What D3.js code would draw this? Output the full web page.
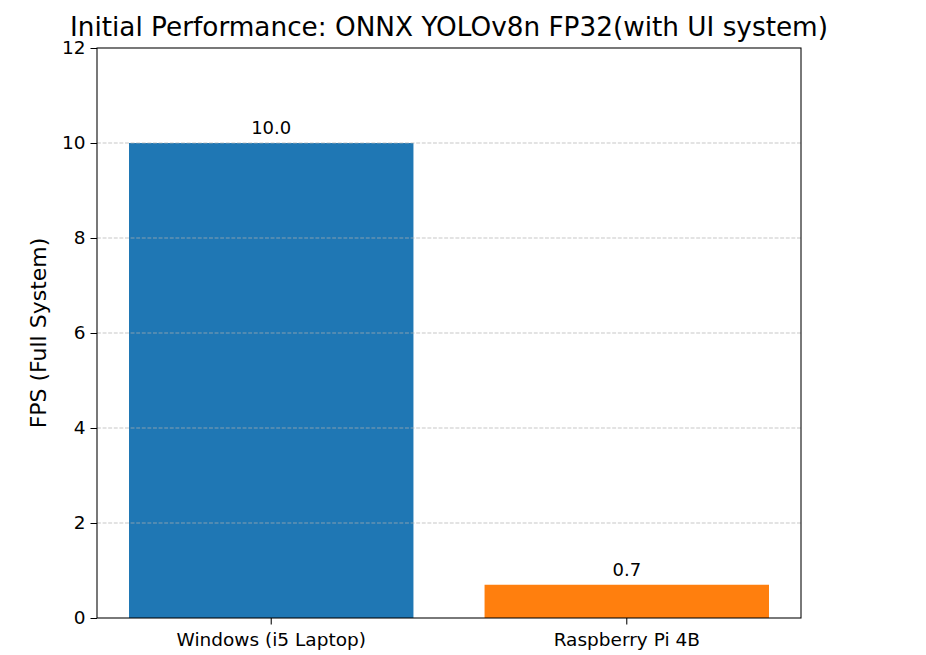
<!DOCTYPE html>
<html>
<head>
<meta charset="utf-8">
<script src="https://cdn.jsdelivr.net/npm/d3@7"></script>
<style>
html,body{margin:0;padding:0;background:#fff;}
svg{display:block;font-family:"DejaVu Sans",sans-serif;}
</style>
</head>
<body>
<svg id="chart" width="926" height="655"></svg>
<script>
const categories = ["Windows (i5 Laptop)", "Raspberry Pi 4B"];
const fpsValues = [10.0, 0.7];
const valueLabels = ["10.0", "0.7"];
const barColors = ["#1f77b4", "#ff7f0e"];
const yTicks = [0, 2, 4, 6, 8, 10, 12];
const titleText = "Initial Performance: ONNX YOLOv8n FP32(with UI system)";
const yLabelText = "FPS (Full System)";

const svg = d3.select("#chart");
const m = {left: 97, right: 801, top: 48, bottom: 618};

const x = d3.scaleBand().domain(categories).range([m.left, m.right])
  .paddingInner(0.2).paddingOuter(0.09);
const y = d3.scaleLinear().domain([0, 12]).range([m.bottom, m.top]);

// bars
svg.append("g").selectAll("rect").data(categories).join("rect")
  .attr("x", d => x(d))
  .attr("y", (d, i) => y(fpsValues[i]))
  .attr("width", x.bandwidth())
  .attr("height", (d, i) => y(0) - y(fpsValues[i]))
  .attr("fill", (d, i) => barColors[i]);

// grid (above bars)
svg.append("g").selectAll("line").data(yTicks.filter(t => t > 0 && t < 12)).join("line")
  .attr("x1", m.left).attr("x2", m.right)
  .attr("y1", d => y(d)).attr("y2", d => y(d))
  .attr("stroke", "#b0b0b0").attr("stroke-opacity", 0.7)
  .attr("stroke-width", 1.05).attr("stroke-dasharray", "3.9,1.7");

// value labels
svg.append("g").selectAll("text").data(categories).join("text")
  .attr("x", d => x(d) + x.bandwidth() / 2)
  .attr("y", (d, i) => y(fpsValues[i]) - 9)
  .attr("text-anchor", "middle")
  .attr("font-size", 18).attr("fill", "#000")
  .text((d, i) => valueLabels[i]);

// axes
const yAxis = d3.axisLeft(y).tickValues(yTicks).tickSize(6.5).tickPadding(5).tickFormat(d3.format("d"));
const gy = svg.append("g").attr("transform", `translate(${m.left},0)`).call(yAxis);
const xAxis = d3.axisBottom(x).tickSize(6.5).tickPadding(8);
const gx = svg.append("g").attr("transform", `translate(0,${m.bottom})`).call(xAxis);
[gy, gx].forEach(g => {
  g.select(".domain").remove();
  g.selectAll("text").attr("font-size", 18.5).attr("fill", "#000").attr("font-family", "DejaVu Sans");
  g.selectAll(".tick line").attr("stroke", "#000").attr("stroke-width", 1.05);
});

// frame
svg.append("rect").attr("x", m.left).attr("y", m.top)
  .attr("width", m.right - m.left).attr("height", m.bottom - m.top)
  .attr("fill", "none").attr("stroke", "#000").attr("stroke-width", 1.05);

// title
svg.append("text").attr("x", (m.left + m.right) / 2).attr("y", 35.5)
  .attr("text-anchor", "middle").attr("font-size", 26.3).attr("fill", "#000")
  .text(titleText);

// y label
svg.append("text").attr("transform", `translate(46,${(m.top + m.bottom) / 2}) rotate(-90)`)
  .attr("text-anchor", "middle").attr("font-size", 22).attr("fill", "#000")
  .text(yLabelText);
</script>
</body>
</html>
